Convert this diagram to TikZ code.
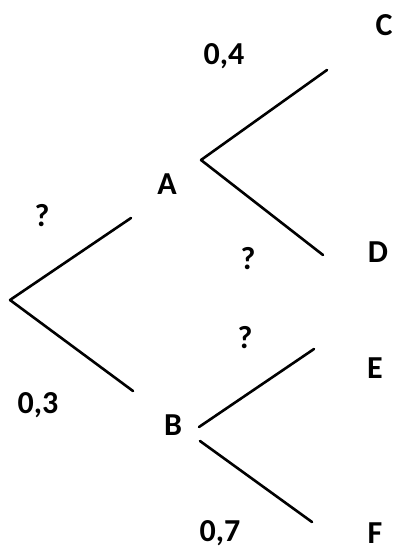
\documentclass[tikz,border=0pt]{standalone}
\usepackage{fontspec}
\setmainfont{Carlito}
\begin{document}
\begin{tikzpicture}[x=1pt,y=-1pt,
  lbl/.style={font=\bfseries\fontsize{32}{34}\selectfont, inner sep=0pt, anchor=center},
  branch/.style={line width=2.6pt, line cap=round}]
\useasboundingbox (0,0) rectangle (395,552);
% coordinates of branch ends
\coordinate (root) at (10,300);
\coordinate (rA) at (131,218);
\coordinate (rB) at (133,391);
\coordinate (aS) at (201,160);
\coordinate (aC) at (327,70);
\coordinate (aD) at (323,255);
\coordinate (bS1) at (199,427);
\coordinate (bE) at (314,349);
\coordinate (bS2) at (200,441);
\coordinate (bF) at (312,522);
% labels
\node[lbl] (C) at (384,25) {C};
\node[lbl] (p04) at (224,56) {0,4};
\node[lbl] (A) at (167,184) {A};
\node[lbl] (q1) at (42,216) {?};
\node[lbl] (D) at (378,252) {D};
\node[lbl] (q2) at (248,259) {?};
\node[lbl] (q3) at (245,338) {?};
\node[lbl] (E) at (375,368) {E};
\node[lbl] (p03) at (38,405) {0,3};
\node[lbl] (B) at (173,425) {B};
\node[lbl] (p07) at (220,533) {0,7};
\node[lbl] (F) at (375,533) {F};
% branches
\draw[branch] (root) -- (rA);
\draw[branch] (root) -- (rB);
\draw[branch] (aS) -- (aC);
\draw[branch] (aS) -- (aD);
\draw[branch] (bS1) -- (bE);
\draw[branch] (bS2) -- (bF);
\end{tikzpicture}
\end{document}
